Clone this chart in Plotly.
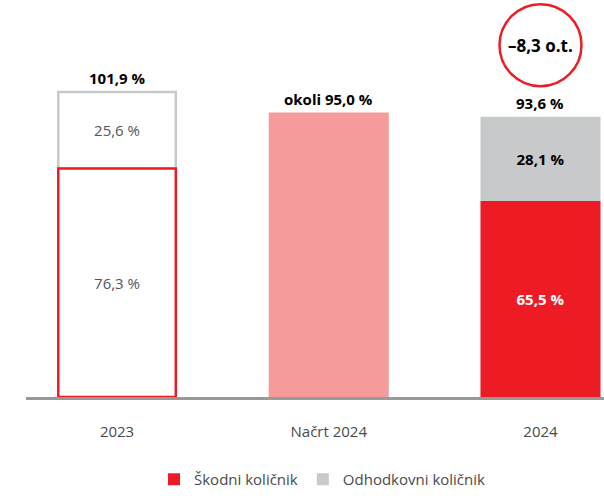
import plotly.graph_objects as go

# Podatki
categories = ["2023", "Načrt 2024", "2024"]
skodni = [76.3, None, 65.5]
odhodkovni = [25.6, None, 28.1]
nacrt = [None, 95.0, None]
skupaj = [101.9, 95.0, 93.6]
skupaj_prefix = ["", "okoli ", ""]
sprememba = "–8,3 o.t."

RED = "#ED1C24"
GREY = "#C8C9CB"
PINK = "#F59B9C"
FONT = "Open Sans"


def pct(v):
    return f"{v:.1f}".replace(".", ",") + " %"


fig = go.Figure()

# 2023: obrobljeni stolpci (odhodkovni nad škodnim)
fig.add_trace(go.Bar(
    x=[categories[0]], y=[odhodkovni[0]], base=[skodni[0]],
    marker=dict(color="white", line=dict(color=GREY, width=2.5)),
    text=[pct(odhodkovni[0])], textposition="inside", insidetextanchor="middle",
    textfont=dict(color="#555555", size=15, family=FONT),
    width=0.555, showlegend=False, hoverinfo="skip",
))
fig.add_trace(go.Bar(
    x=[categories[0]], y=[skodni[0]],
    marker=dict(color="white", line=dict(color=RED, width=2.5)),
    text=[pct(skodni[0])], textposition="inside", insidetextanchor="middle",
    textfont=dict(color="#555555", size=15, family=FONT),
    width=0.555, showlegend=False, hoverinfo="skip",
))

# Načrt 2024
fig.add_trace(go.Bar(
    x=[categories[1]], y=[nacrt[1]],
    marker=dict(color=PINK, line=dict(width=0)),
    width=0.567, showlegend=False, hoverinfo="skip",
))

# 2024
fig.add_trace(go.Bar(
    name="Škodni količnik",
    x=[categories[2]], y=[skodni[2]],
    marker=dict(color=RED, line=dict(width=0)),
    text=["<b>" + pct(skodni[2]) + "</b>"], textposition="inside", insidetextanchor="middle",
    textfont=dict(color="white", size=15, family=FONT),
    width=0.567,
))
fig.add_trace(go.Bar(
    name="Odhodkovni količnik",
    x=[categories[2]], y=[odhodkovni[2]], base=[skodni[2]],
    marker=dict(color=GREY, line=dict(width=0)),
    text=["<b>" + pct(odhodkovni[2]) + "</b>"], textposition="inside", insidetextanchor="middle",
    textfont=dict(color="black", size=15, family=FONT),
    width=0.567,
))

# Skupne vrednosti nad stolpci (x kot indeks kategorije)
for i, (total, pre) in enumerate(zip(skupaj, skupaj_prefix)):
    fig.add_annotation(
        x=i, y=total, text="<b>" + pre + pct(total) + "</b>",
        showarrow=False, yanchor="bottom", yshift=2,
        font=dict(size=15, color="black", family=FONT),
    )

# Krog s spremembo
fig.add_shape(
    type="circle", xref="x", yref="y",
    xsizemode="pixel", ysizemode="pixel",
    xanchor=2, yanchor=117.5,
    x0=-41, x1=41, y0=-41, y1=41,
    line=dict(color=RED, width=2.5), fillcolor="white",
)
fig.add_annotation(
    x=2, y=117.5, text="<b>" + sprememba + "</b>",
    showarrow=False, font=dict(size=17, color="black", family=FONT),
)

# Osnovna črta pod stolpci
fig.add_shape(
    type="line", xref="paper", x0=0, x1=1,
    yref="paper", ysizemode="pixel", yanchor=0, y0=-1.5, y1=-1.5,
    line=dict(color="#999999", width=3),
)

fig.update_layout(
    width=604, height=496,
    margin=dict(l=26, r=0, t=0, b=97),
    barmode="overlay",
    plot_bgcolor="white", paper_bgcolor="white",
    font=dict(family=FONT, size=15, color="#4a4a4a"),
    showlegend=True,
    legend=dict(
        orientation="h", x=0.513, xanchor="center", y=-0.208, yanchor="middle",
        font=dict(size=15, color="#4a4a4a", family=FONT),
        traceorder="normal", itemwidth=30,
    ),
    xaxis=dict(
        type="category",
        range=[-0.43, 2.30], showgrid=False, zeroline=False, showline=False,
        ticks="outside", ticklen=21, tickcolor="rgba(0,0,0,0)",
        tickfont=dict(size=15, color="#4a4a4a", family=FONT),
    ),
    yaxis=dict(range=[0, 132.6], visible=False),
)

fig.write_html(
    "out.html",
    config={"displayModeBar": False},
    post_script="document.body.style.margin='0';",
)
